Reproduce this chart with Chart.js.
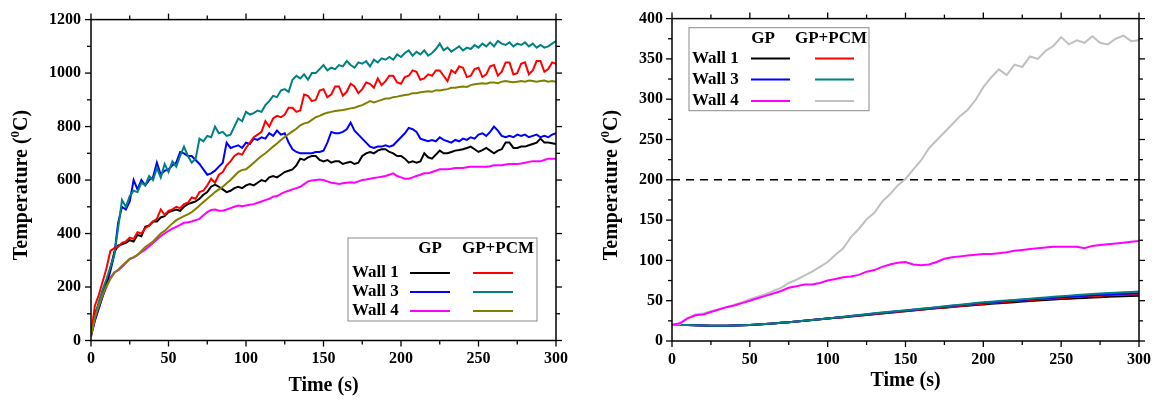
<!DOCTYPE html>
<html><head><meta charset="utf-8">
<script src="https://cdn.jsdelivr.net/npm/chart.js@4/dist/chart.umd.min.js"></script>
<style>
html,body{margin:0;padding:0;background:#fff;width:1160px;height:403px;overflow:hidden}
.wrap{position:absolute;top:0;width:580px;height:403px}
canvas{display:block}
</style></head><body>
<div class="wrap" style="left:0"><canvas id="c1" width="580" height="403"></canvas></div>
<div class="wrap" style="left:580px"><canvas id="c2" width="580" height="403"></canvas></div>
<script>
// ---------- Left panel (heated side), time in s ----------
const tL = [
0,2.5,5,7.5,10,12.5,15,17.5,20,22.5,
25,27.5,30,32.5,35,37.5,40,42.5,45,47.5,
50,52.5,55,57.5,60,62.5,65,67.5,70,72.5,
75,77.5,80,82.5,85,87.5,90,92.5,95,97.5,
100,102.5,105,107.5,110,112.5,115,117.5,120,122.5,
125,127.5,130,132.5,135,137.5,140,142.5,145,147.5,
150,152.5,155,157.5,160,162.5,165,167.5,170,172.5,
175,177.5,180,182.5,185,187.5,190,192.5,195,197.5,
200,202.5,205,207.5,210,212.5,215,217.5,220,222.5,
225,227.5,230,232.5,235,237.5,240,242.5,245,247.5,
250,252.5,255,257.5,260,262.5,265,267.5,270,272.5,
275,277.5,280,282.5,285,287.5,290,292.5,295,297.5,
300];
const L_wall1_GP = [
20,100,135,175,215,270,330,355,360,365,
375,370,395,390,425,430,445,445,460,465,
480,485,490,485,500,510,515,520,530,545,
555,575,583,575,565,555,560,570,575,570,
580,585,580,590,600,595,610,615,610,620,
630,635,640,655,680,675,685,690,690,675,
670,675,665,670,670,660,665,668,660,665,
690,700,705,700,710,715,715,705,700,690,
690,680,665,670,665,670,700,685,680,695,
710,700,700,705,710,712,715,720,725,715,
705,712,720,710,700,710,715,740,740,720,
720,725,725,730,735,740,755,740,740,738,
735];
const L_wall1_PCM = [
20,130,170,220,270,335,345,350,365,370,
385,380,405,400,420,430,445,455,490,470,
485,490,500,495,510,515,535,530,555,560,
580,605,590,620,630,655,670,690,700,695,
720,740,760,770,780,820,800,830,840,835,
845,870,870,855,860,920,915,895,900,935,
940,910,920,950,950,915,930,960,950,925,
940,965,960,945,980,955,970,990,990,965,
960,985,990,1010,1005,975,980,995,990,1010,
1010,990,970,1010,1000,1025,1020,985,990,1015,
1020,985,995,1025,1030,990,1005,1040,1040,995,
1000,1035,1040,995,1010,1045,1045,1005,1015,1040,
1035];
const L_wall3_GP = [
20,75,120,165,210,260,320,440,500,490,
520,600,565,600,580,600,610,665,620,635,
640,655,665,705,700,690,690,675,660,640,
620,625,635,650,665,740,720,725,730,720,
740,735,755,750,760,755,775,765,785,770,
775,740,715,705,700,700,700,700,705,705,
710,740,780,775,775,780,790,815,785,770,
755,740,725,720,725,725,730,725,730,745,
760,775,795,790,780,755,750,745,750,745,
760,750,745,740,750,745,755,750,760,755,
770,775,765,780,800,785,765,760,765,760,
770,765,770,760,765,770,760,765,760,770,
775];
const L_wall3_PCM = [
20,90,145,190,230,275,320,420,525,500,
540,560,555,590,580,615,600,645,610,660,
630,670,650,690,725,690,665,680,755,745,
765,760,800,775,780,765,770,800,830,820,
855,845,850,860,855,880,895,915,910,935,
940,930,975,990,980,995,975,1000,1000,1015,
1030,1010,1020,1015,1030,1025,1045,1030,1020,1040,
1035,1045,1025,1050,1040,1055,1050,1060,1050,1070,
1060,1075,1085,1065,1080,1070,1085,1065,1075,1090,
1110,1085,1095,1080,1090,1100,1085,1095,1090,1105,
1095,1110,1100,1115,1100,1120,1110,1105,1115,1100,
1110,1105,1115,1100,1110,1095,1105,1095,1100,1110,
1120];
const L_wall4_GP = [
15,75,120,165,200,235,255,262,275,290,
305,310,320,330,340,352,365,378,390,400,
410,418,425,432,440,442,445,450,455,468,
480,488,490,485,485,490,495,500,505,502,
505,508,510,515,520,525,530,538,540,548,
555,560,565,570,575,585,595,598,600,602,
600,595,590,588,585,588,590,592,590,595,
600,602,605,608,610,612,615,620,625,615,
610,605,605,610,615,620,625,625,630,635,
640,640,640,642,645,645,645,648,650,650,
650,650,650,652,655,655,655,658,660,660,
660,662,665,668,670,670,670,675,680,680,
680];
const L_wall4_PCM = [
15,85,130,170,205,230,252,265,280,293,
305,312,320,335,350,360,370,385,400,410,
424,438,450,458,465,472,480,492,505,518,
530,542,555,565,575,588,600,615,630,638,
640,652,665,678,690,700,712,725,737,750,
761,772,782,792,805,812,815,825,835,840,
847,852,855,858,860,862,865,868,870,876,
880,888,895,890,895,900,905,905,910,912,
915,918,920,925,925,928,930,932,930,936,
935,938,940,945,945,948,950,948,955,958,
960,962,960,965,965,962,968,970,968,966,
968,970,968,972,970,968,970,972,968,970,
968];

// ---------- Right panel (unexposed side) ----------
const tR = [
0,5,10,15,20,25,30,35,40,45,
50,55,60,65,70,75,80,85,90,95,
100,105,110,115,120,125,130,135,140,145,
150,155,160,165,170,175,180,185,190,195,
200,205,210,215,220,225,230,235,240,245,
250,255,260,265,270,275,280,285,290,295,
300];
const R_wall1_GP = [
20,20,19.8,19.5,19.2,19,19,19,19.2,19.5,
20,20.5,21,21.7,22.5,23.3,24.2,25.1,26,27,
27.8,28.7,29.6,30.5,31.4,32.3,33.2,34.1,35,36,
37,37.9,38.8,39.7,40.6,41.4,42.2,43,43.8,44.6,
45.4,46.1,46.8,47.5,48.2,48.9,49.6,50.2,50.8,51.4,
52,52.5,53,53.5,54,54.4,54.8,55.1,55.4,55.7,
56];
const R_wall1_PCM = [
20,20,19.8,19.5,19.2,19,19,19,19.2,19.5,
20,20.5,21,21.7,22.5,23.3,24.2,25.1,26,27,
27.8,28.7,29.6,30.6,31.6,32.6,33.6,34.5,35.4,36.3,
37.2,38.1,39,39.9,40.8,41.7,42.6,43.5,44.4,45.3,
46.2,47,47.8,48.6,49.4,50.1,50.8,51.5,52.2,52.8,
53.4,54,54.6,55.2,55.7,56.2,56.7,57.1,57.5,57.8,
58];
const R_wall3_GP = [
20,20,19.8,19.5,19.2,19,19,19,19.2,19.5,
20,20.5,21,21.7,22.5,23.3,24.2,25.1,26,27,
27.9,28.9,29.9,31,32,33,34,35,36,36.9,
37.8,38.8,39.8,40.7,41.7,42.6,43.6,44.5,45.5,46.4,
47.3,48,48.8,49.5,50.2,51,51.7,52.4,53,53.7,
54.3,55,55.6,56.2,56.8,57.3,57.8,58.2,58.6,59,
59.3];
const R_wall3_PCM = [
20,20,19.8,19.5,19.2,19,19,19,19.2,19.5,
20,20.5,21,21.7,22.5,23.3,24.2,25.1,26,27,
28,29,30,31.1,32.2,33.2,34.3,35.3,36.2,37.1,
38,39,40,41,42,43,44,45,46,47,
48,48.8,49.5,50.3,51,51.8,52.5,53.3,54,54.8,
55.5,56.3,57,57.7,58.3,58.9,59.5,60,60.5,60.9,
61.3];
const R_wall4_GP = [
20,22,28,32,33,36,39,42,44,47,
50,53,56,59,62,66,68,70,70,72,
75,77,79,80,82,86,88,92,95,97,
98,95,94,95,98,102,104,105,106,107,
108,108,109,110,112,113,114,115,116,117,
117,117,117,115,118,119,120,121,122,123,
124];
const R_wall4_PCM = [
20,21,28,33,34,37,39,42,45,48,
52,55,58,62,66,72,76,81,86,92,
98,107,115,129,139,151,159,173,182,193,
201,213,224,239,249,259,269,279,287,299,
315,327,337,330,343,340,353,350,360,366,
377,368,373,370,378,370,368,375,379,372,
373];
const limitT = [0, 300];
const limitV = [200, 200];

const xTicksStep = 50;
const leftYMax = 1200, leftYStep = 200;
const rightYMax = 400, rightYStep = 50;

const FONT = "'Liberation Serif','Times New Roman',serif";
const COL = {black:'#000000', red:'#ff0000', blue:'#0000ff', teal:'#008080', magenta:'#ff00ff', olive:'#808000', gray:'#c0c0c0'};

function pts(t, v){ return v.map((y,i)=>({x:t[i], y})); }
function ds(label, t, v, color, order){
  return {label, data:pts(t,v), borderColor:color, backgroundColor:color, borderWidth:2,
    pointRadius:0, tension:0, fill:false, order};
}

const framePlugin = {
  id:'frame',
  afterDatasetsDraw(chart, args, o){
    const {ctx, chartArea:a, scales:{x,y}} = chart;
    ctx.save();
    const ln=(x1,y1,x2,y2)=>{ctx.beginPath();ctx.moveTo(x1,y1);ctx.lineTo(x2,y2);ctx.stroke();};
    ctx.strokeStyle='#000'; ctx.lineWidth=1.5;
    ctx.strokeRect(a.left,a.top,a.right-a.left,a.bottom-a.top);
    ctx.lineWidth=1.3;
    const MAJ=6, MIN=4;
    const dx=(v,len)=>{const p=x.getPixelForValue(v); ln(p,a.bottom,p,a.bottom+len); ln(p,a.top,p,a.top-len);};
    const dy=(v,len)=>{const p=y.getPixelForValue(v); ln(a.left,p,a.left-len,p); ln(a.right,p,a.right+len,p);};
    const xt=x.ticks.map(t=>t.value), yt=y.ticks.map(t=>t.value);
    xt.forEach(v=>dx(v,MAJ)); for(let i=0;i<xt.length-1;i++) dx((xt[i]+xt[i+1])/2,MIN);
    yt.forEach(v=>dy(v,MAJ)); for(let i=0;i<yt.length-1;i++) dy((yt[i]+yt[i+1])/2,MIN);

    // axis titles
    ctx.fillStyle='#000';
    ctx.textBaseline='middle';
    ctx.font='bold 20px '+FONT;
    ctx.textAlign='center';
    ctx.fillText('Time (s)', (a.left+a.right)/2, o.xTitleY);
    ctx.save();
    ctx.translate(o.yTitleX, o.yTitleY);
    ctx.rotate(-Math.PI/2);
    const p1='Temperature (', p2='0', p3='C)';
    ctx.font='bold 20px '+FONT; const w1=ctx.measureText(p1).width, w3=ctx.measureText(p3).width;
    ctx.font='bold 13px '+FONT; const w2=ctx.measureText(p2).width;
    let sx=-(w1+w2+w3)/2;
    ctx.textAlign='left';
    ctx.font='bold 20px '+FONT; ctx.fillText(p1,sx,0); sx+=w1;
    ctx.font='bold 13px '+FONT; ctx.fillText(p2,sx,-6); sx+=w2;
    ctx.font='bold 20px '+FONT; ctx.fillText(p3,sx,0);
    ctx.restore();

    // legend table
    const L=o.legend;
    ctx.strokeStyle='#8a8a8a'; ctx.lineWidth=1;
    ctx.strokeRect(L.x,L.y,L.w,L.h);
    ctx.font='bold 17px '+FONT; ctx.textAlign='center'; ctx.fillStyle='#000';
    ctx.fillText('GP', L.gpC, L.hy);
    ctx.fillText('GP+PCM', L.pcmC, L.hy);
    ctx.lineWidth=2.2;
    L.rows.forEach((r,i)=>{
      const yy=L.ry[i];
      ctx.textAlign='left'; ctx.fillStyle='#000';
      ctx.fillText(r.name, L.tx, yy);
      const d1=chart.data.datasets[r.gp], d2=chart.data.datasets[r.pcm];
      ctx.strokeStyle=d1.borderColor; ln(L.gp[0],yy,L.gp[1],yy);
      ctx.strokeStyle=d2.borderColor; ln(L.pcm[0],yy,L.pcm[1],yy);
    });
    ctx.restore();
  }
};

function build(id, datasets, c){
  const tickFont={family:FONT, size:16, weight:'bold'};
  const plain = v => String(v);
  return new Chart(document.getElementById(id), {
    type:'line',
    data:{datasets},
    options:{
      responsive:false, animation:false,
      layout:{padding:{left:0,right:c.padR,top:c.padT,bottom:0}},
      scales:{
        x:{type:'linear', min:0, max:300,
          ticks:{stepSize:xTicksStep, padding:9, font:tickFont, color:'#000', maxRotation:0, autoSkip:false, callback:plain},
          grid:{display:false, drawTicks:false}, border:{display:false},
          afterFit:s=>{s.height=c.xh;}},
        y:{type:'linear', min:0, max:c.ymax,
          ticks:{stepSize:c.ystep, padding:c.yPad, font:tickFont, color:'#000', autoSkip:false, callback:plain},
          grid:{display:false, drawTicks:false}, border:{display:false},
          afterFit:s=>{s.width=c.yw;}}
      },
      plugins:{legend:{display:false}, tooltip:{enabled:false}, frame:c.frame}
    },
    plugins:[framePlugin]
  });
}

build('c1', [
  ds('Wall 1 GP', tL, L_wall1_GP, COL.black, 3),
  ds('Wall 1 GP+PCM', tL, L_wall1_PCM, COL.red, 2),
  ds('Wall 3 GP', tL, L_wall3_GP, COL.blue, 3),
  ds('Wall 3 GP+PCM', tL, L_wall3_PCM, COL.teal, 2),
  ds('Wall 4 GP', tL, L_wall4_GP, COL.magenta, 3),
  ds('Wall 4 GP+PCM', tL, L_wall4_PCM, COL.olive, 1)
], {padR:24, padT:15.5, yw:91, xh:62.5, ymax:leftYMax, ystep:leftYStep, yPad:10,
  frame:{xTitleY:386, yTitleX:22, yTitleY:185,
    legend:{x:348,y:238,w:189,h:83, hy:249, gpC:430, pcmC:498, tx:352, gp:[410,450], pcm:[473,513],
      ry:[273,292,311], rows:[{name:'Wall 1',gp:0,pcm:1},{name:'Wall 3',gp:2,pcm:3},{name:'Wall 4',gp:4,pcm:5}]}}});

build('c2', [
  ds('Wall 1 GP', tR, R_wall1_GP, COL.black, 5),
  ds('Wall 1 GP+PCM', tR, R_wall1_PCM, COL.red, 4),
  ds('Wall 3 GP', tR, R_wall3_GP, COL.blue, 3),
  ds('Wall 3 GP+PCM', tR, R_wall3_PCM, COL.teal, 2),
  ds('Wall 4 GP', tR, R_wall4_GP, COL.magenta, 1),
  ds('Wall 4 GP+PCM', tR, R_wall4_PCM, COL.gray, 1),
  Object.assign(ds('limit', limitT, limitV, '#000', 6), {borderWidth:1.5, borderDash:[8,6]})
], {padR:20, padT:14.4, yw:92, xh:62, ymax:rightYMax, ystep:rightYStep, yPad:9,
  frame:{xTitleY:381, yTitleX:32, yTitleY:185,
    legend:{x:109,y:27.7,w:180,h:83, hy:39, gpC:183, pcmC:251, tx:112, gp:[171,210], pcm:[235,274],
      ry:[58.5,79.5,101], rows:[{name:'Wall 1',gp:0,pcm:1},{name:'Wall 3',gp:2,pcm:3},{name:'Wall 4',gp:4,pcm:5}]}}});
</script>
</body></html>
